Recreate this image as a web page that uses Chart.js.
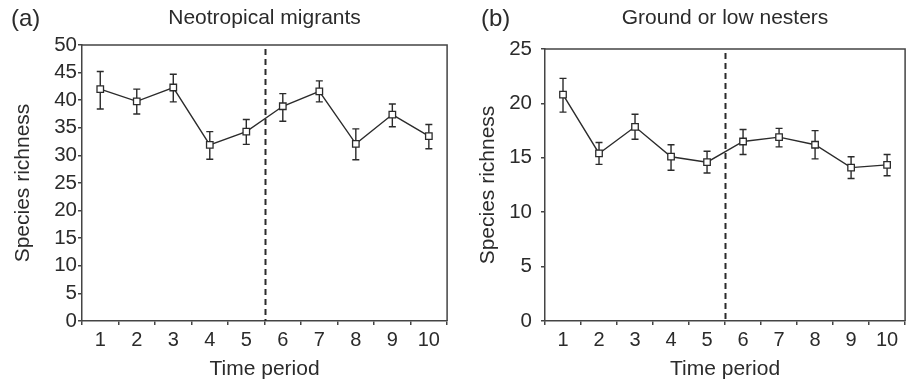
<!DOCTYPE html>
<html>
<head>
<meta charset="utf-8">
<script src="https://cdn.jsdelivr.net/npm/chart.js@4.4.1/dist/chart.umd.min.js"></script>
<style>
  html, body { margin: 0; padding: 0; background: #fff; overflow: hidden; }
  #wrap { position: relative; width: 906px; height: 385px; overflow: hidden; }
  canvas { position: absolute; top: 0; }
  #chartA { left: 0; }
  #chartB { left: 453px; }
</style>
</head>
<body>
<div id="wrap">
  <canvas id="chartA" width="453" height="385"></canvas>
  <canvas id="chartB" width="458" height="385"></canvas>
</div>
<script>
// --- Dados ---
const periods = ['1', '2', '3', '4', '5', '6', '7', '8', '9', '10'];

// (a) Neotropical migrants: média e barras de erro
const neoMean = [42.0, 39.8, 42.3, 31.9, 34.3, 38.9, 41.6, 32.1, 37.4, 33.5];
const neoLow  = [38.4, 37.5, 39.7, 29.3, 32.0, 36.2, 39.7, 29.2, 35.2, 31.2];
const neoHigh = [45.2, 42.0, 44.7, 34.3, 36.5, 41.2, 43.5, 34.8, 39.3, 35.6];

// (b) Ground or low nesters
const groundMean = [20.8, 15.4, 17.85, 15.1, 14.6, 16.5, 16.9, 16.2, 14.1, 14.35];
const groundLow  = [19.2, 14.4, 16.7, 13.85, 13.6, 15.3, 16.0, 14.9, 13.1, 13.35];
const groundHigh = [22.3, 16.4, 19.0, 16.2, 15.6, 17.6, 17.7, 17.5, 15.1, 15.3];

// posição da linha tracejada (entre os períodos 5 e 6)
const breakAfter = 4.5;

const INK = '#2b2b2b';
const AXIS = '#444';
const FONT = "'Liberation Sans', Arial, Helvetica, sans-serif";

// Plugin: barras de erro, linha tracejada, moldura e títulos
const panelPlugin = {
    id: 'panelExtras',
    beforeDatasetsDraw(chart, args, opts) {
        const { ctx, chartArea } = chart;
        const x = chart.scales.x;
        const y = chart.scales.y;

        // linha tracejada vertical
        const xb = Math.round(x.getPixelForValue(breakAfter)) + 0.5;
        ctx.save();
        ctx.strokeStyle = INK;
        ctx.lineWidth = 2;
        ctx.setLineDash([6, 4]);
        ctx.beginPath();
        ctx.moveTo(xb, chartArea.top + 4);
        ctx.lineTo(xb, chartArea.bottom);
        ctx.stroke();
        ctx.restore();

        // barras de erro
        ctx.save();
        ctx.strokeStyle = INK;
        ctx.lineWidth = 1.4;
        opts.low.forEach((lo, i) => {
            const px = x.getPixelForValue(i);
            const yLo = y.getPixelForValue(lo);
            const yHi = y.getPixelForValue(opts.high[i]);
            ctx.beginPath();
            ctx.moveTo(px, yLo);
            ctx.lineTo(px, yHi);
            ctx.moveTo(px - 3.5, yLo);
            ctx.lineTo(px + 3.5, yLo);
            ctx.moveTo(px - 3.5, yHi);
            ctx.lineTo(px + 3.5, yHi);
            ctx.stroke();
        });
        ctx.restore();
    },
    afterDraw(chart, args, opts) {
        const { ctx, chartArea } = chart;

        // moldura de cima e da direita
        ctx.save();
        ctx.strokeStyle = AXIS;
        ctx.lineWidth = 1.5;
        ctx.beginPath();
        ctx.moveTo(chartArea.left, chartArea.top);
        ctx.lineTo(chartArea.right, chartArea.top);
        ctx.lineTo(chartArea.right, chartArea.bottom);
        ctx.stroke();

        // títulos
        ctx.fillStyle = INK;
        ctx.textBaseline = 'alphabetic';
        ctx.textAlign = 'left';
        ctx.font = '24px ' + FONT;
        ctx.fillText(opts.tag, opts.tagX, 26);
        ctx.textAlign = 'center';
        ctx.font = '21px ' + FONT;
        ctx.fillText(opts.title, (chartArea.left + chartArea.right) / 2, 24);
        ctx.restore();
    }
};

function makePanel(canvasId, mean, low, high, yMax, tag, tagX, title, axisWidth, topPad, titlePad, tickPad) {
    const ctx = document.getElementById(canvasId).getContext('2d');
    return new Chart(ctx, {
        type: 'line',
        data: {
            labels: periods,
            datasets: [{
                data: mean,
                borderColor: INK,
                borderWidth: 1.4,
                tension: 0,
                pointStyle: 'rect',
                pointRadius: 4.6,
                pointBackgroundColor: '#fff',
                pointBorderColor: INK,
                pointBorderWidth: 1.3
            }]
        },
        options: {
            responsive: false,
            animation: false,
            events: [],
            layout: { padding: { top: topPad, right: 0, left: 0, bottom: 0 } },
            plugins: {
                legend: { display: false },
                tooltip: { enabled: false },
                panelExtras: { low: low, high: high, tag: tag, tagX: tagX, title: title }
            },
            scales: {
                x: {
                    offset: true,
                    grid: { offset: true, drawOnChartArea: false, tickLength: 4, color: AXIS, lineWidth: 1.5 },
                    border: { color: AXIS, width: 1.5 },
                    ticks: { color: INK, font: { family: FONT, size: 20 }, padding: 3, maxRotation: 0, autoSkip: false },
                    title: { display: true, text: 'Time period', color: INK, font: { family: FONT, size: 21 }, padding: { top: 0, bottom: 3 } },
                    afterFit(scale) { scale.height = 64; }
                },
                y: {
                    min: 0,
                    max: yMax,
                    grid: { drawOnChartArea: false, tickLength: 4, color: AXIS, lineWidth: 1.5 },
                    border: { color: AXIS, width: 1.5 },
                    ticks: { stepSize: 5, color: INK, font: { family: FONT, size: 20.5 }, padding: tickPad },
                    title: { display: true, text: 'Species richness', color: INK, font: { family: FONT, size: 21 }, padding: { top: titlePad, bottom: 0 } },
                    afterFit(scale) { scale.width = axisWidth; }
                }
            }
        },
        plugins: [panelPlugin]
    });
}

// --- Execução ---
makePanel('chartA', neoMean, neoLow, neoHigh, 50, '(a)', 11, 'Neotropical migrants', 82, 45, 11, 1);
makePanel('chartB', groundMean, groundLow, groundHigh, 25, '(b)', 28, 'Ground or low nesters', 92, 49, 23, 9);
</script>
</body>
</html>
